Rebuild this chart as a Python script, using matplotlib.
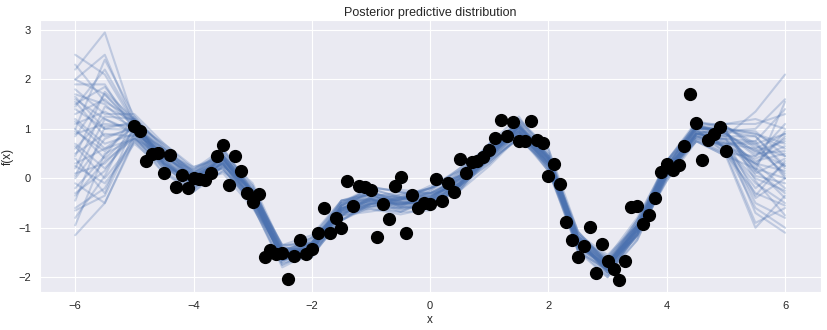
import matplotlib
matplotlib.use("Agg")
import matplotlib.pyplot as plt
import seaborn as sns

# observed data points
x_obs = [-5.0, -4.9, -4.8, -4.7, -4.6, -4.5, -4.4, -4.3, -4.2, -4.1,
         -4.0, -3.9, -3.8, -3.7, -3.6, -3.5, -3.4, -3.3, -3.2, -3.1,
         -3.0, -2.9, -2.8, -2.7, -2.6, -2.5, -2.4, -2.3, -2.2, -2.1,
         -2.0, -1.9, -1.8, -1.7, -1.6, -1.5, -1.4, -1.3, -1.2, -1.1,
         -1.0, -0.9, -0.8, -0.7, -0.6, -0.5, -0.4, -0.3, -0.2, -0.1,
         0.0, 0.1, 0.2, 0.3, 0.4, 0.5, 0.6, 0.7, 0.8, 0.9,
         1.0, 1.1, 1.2, 1.3, 1.4, 1.5, 1.6, 1.7, 1.8, 1.9,
         2.0, 2.1, 2.2, 2.3, 2.4, 2.5, 2.6, 2.7, 2.8, 2.9,
         3.0, 3.1, 3.2, 3.3, 3.4, 3.5, 3.6, 3.7, 3.8, 3.9,
         4.0, 4.1, 4.2, 4.3, 4.4, 4.5, 4.6, 4.7, 4.8, 4.9, 5.0]
y_obs = [1.05, 0.95, 0.36, 0.50, 0.52, 0.11, 0.48, -0.17, 0.07, -0.19,
         0.00, -0.02, -0.04, 0.11, 0.45, 0.67, -0.13, 0.45, 0.15, -0.30,
         -0.47, -0.32, -1.59, -1.44, -1.53, -1.52, -2.04, -1.57, -1.24, -1.53,
         -1.42, -1.10, -0.59, -1.10, -0.81, -1.01, -0.05, -0.55, -0.16, -0.18,
         -0.24, -1.19, -0.51, -0.83, -0.16, 0.02, -1.10, -0.34, -0.59, -0.49,
         -0.51, -0.02, -0.45, -0.09, -0.28, 0.40, 0.11, 0.33, 0.36, 0.43,
         0.58, 0.82, 1.17, 0.86, 1.13, 0.76, 0.76, 1.16, 0.78, 0.71,
         0.05, 0.30, -0.12, -0.88, -1.24, -1.59, -1.36, -0.99, -1.92, -1.33,
         -1.67, -1.83, -2.05, -1.67, -0.58, -0.56, -0.92, -0.75, -0.40, 0.13,
         0.28, 0.17, 0.26, 0.65, 1.70, 1.11, 0.37, 0.78, 0.89, 1.03, 0.56]

# posterior sample curves (values at x_grid)
x_grid = [-6.0, -5.5, -5.0, -4.5, -4.0, -3.5, -3.0, -2.5, -2.0, -1.5, -1.0, -0.5,
          0.0, 0.5, 1.0, 1.5, 2.0, 2.5, 3.0, 3.5, 4.0, 4.5, 5.0, 5.5, 6.0]
samples = [
    [2.5, 2.1, 1.1, 0.5, 0.1, 0.45, -0.25, -1.45, -1.3, -0.55, -0.3, -0.4, -0.3, 0.05, 0.6, 1.1, 0.45, -1.2, -1.7, -0.95, 0.25, 1.05, 0.9, 0.55, 0.25],
    [2.2, 2.95, 1.15, 0.3, -0.1, 0.3, -0.45, -1.65, -1.5, -0.75, -0.5, -0.6, -0.5, -0.15, 0.4, 0.9, 0.25, -1.35, -1.9, -1.15, 0.05, 0.9, 0.85, 1.35, 2.1],
    [2.0, 1.7, 1.05, 0.45, 0.05, 0.4, -0.3, -1.5, -1.35, -0.6, -0.35, -0.55, -0.45, 0.0, 0.55, 0.95, 0.3, -1.35, -1.85, -1.0, 0.2, 0.9, 0.95, 1.0, 1.6],
    [1.9, 1.9, 0.95, 0.25, -0.15, 0.25, -0.45, -1.6, -1.45, -0.55, -0.3, -0.4, -0.5, -0.15, 0.45, 1.05, 0.4, -1.2, -1.75, -1.15, 0.05, 0.85, 0.7, 0.75, 1.4],
    [1.7, 1.5, 0.95, 0.45, 0.05, 0.4, -0.28, -1.5, -1.45, -0.7, -0.52, -0.38, -0.35, 0.05, 0.58, 1.05, 0.42, -1.22, -1.72, -0.98, 0.25, 1.05, 0.85, 0.3, -0.2],
    [1.6, 1.2, 0.9, 0.3, -0.12, 0.3, -0.4, -1.62, -1.35, -0.6, -0.45, -0.55, -0.35, -0.1, 0.42, 0.92, 0.3, -1.32, -1.85, -1.1, 0.1, 1.0, 1.0, 0.9, 0.6],
    [1.5, 1.85, 1.1, 0.4, 0.02, 0.3, -0.4, -1.5, -1.32, -0.58, -0.48, -0.52, -0.45, -0.12, 0.52, 1.08, 0.4, -1.25, -1.78, -1.0, 0.2, 0.9, 0.75, 0.1, 0.4],
    [1.4, 1.0, 0.98, 0.32, -0.05, 0.4, -0.3, -1.58, -1.45, -0.7, -0.38, -0.45, -0.42, -0.02, 0.55, 0.98, 0.32, -1.3, -1.82, -1.08, 0.12, 0.95, 0.65, -0.5, -0.8],
    [1.3, 1.6, 1.05, 0.42, 0.08, 0.42, -0.38, -1.6, -1.4, -0.62, -0.32, -0.42, -0.38, 0.02, 0.48, 1.02, 0.38, -1.28, -1.75, -1.02, 0.22, 1.0, 1.05, 0.7, 0.9],
    [1.2, 0.7, 0.9, 0.28, -0.08, 0.28, -0.42, -1.52, -1.42, -0.68, -0.5, -0.5, -0.48, -0.1, 0.45, 0.95, 0.28, -1.25, -1.85, -1.1, 0.1, 0.9, 0.8, 0.2, 0.0],
    [1.1, 1.35, 1.02, 0.38, 0.0, 0.38, -0.32, -1.55, -1.38, -0.64, -0.4, -0.6, -0.38, -0.05, 0.5, 1.0, 0.35, -1.3, -1.8, -1.05, 0.15, 0.98, 0.6, -0.2, 0.3],
    [1.0, 0.4, 0.95, 0.35, -0.05, 0.32, -0.36, -1.55, -1.35, -0.6, -0.45, -0.45, -0.3, 0.0, 0.55, 0.95, 0.38, -1.28, -1.78, -1.05, 0.18, 0.95, 0.9, 0.55, 0.75],
    [0.9, 1.1, 1.05, 0.36, -0.02, 0.38, -0.34, -1.52, -1.42, -0.66, -0.42, -0.5, -0.45, -0.08, 0.48, 1.02, 0.34, -1.32, -1.8, -1.06, 0.12, 0.92, 0.72, -0.7, -1.1],
    [0.85, 1.7, 1.1, 0.42, 0.05, 0.35, -0.3, -1.55, -1.38, -0.62, -0.38, -0.42, -0.4, -0.02, 0.55, 1.05, 0.4, -1.25, -1.76, -1.02, 0.18, 1.02, 0.95, 0.85, 0.25],
    [0.7, 0.2, 0.88, 0.3, -0.08, 0.3, -0.4, -1.6, -1.45, -0.65, -0.45, -0.52, -0.45, -0.1, 0.45, 0.95, 0.3, -1.32, -1.85, -1.1, 0.1, 0.9, 0.78, 0.35, 0.5],
    [0.6, 1.25, 1.2, 0.65, 0.13, 0.4, -0.45, -1.7, -1.3, -0.45, -0.27, -0.53, -0.55, -0.15, 0.55, 1.15, 0.45, -1.38, -1.95, -1.0, 0.35, 1.05, 0.6, -0.1, -0.5],
    [0.5, 0.9, 0.85, 0.2, -0.12, 0.45, -0.2, -1.5, -1.55, -0.85, -0.47, -0.33, -0.2, 0.05, 0.4, 0.9, 0.3, -1.13, -1.7, -1.15, 0.0, 0.9, 1.05, 0.6, 0.1],
    [0.4, -0.3, 1.1, 0.15, -0.22, 0.25, -0.25, -1.4, -1.2, -0.65, -0.62, -0.68, -0.4, 0.15, 0.65, 1.0, 0.2, -1.38, -1.75, -0.9, 0.25, 0.8, 0.5, 0.45, 0.8],
    [0.3, 0.6, 0.8, 0.5, 0.18, 0.5, -0.35, -1.65, -1.45, -0.55, -0.22, -0.38, -0.5, -0.25, 0.4, 1.05, 0.5, -1.23, -1.9, -1.25, 0.05, 1.05, 0.95, 0.15, -0.3],
    [0.2, 1.45, 1.15, 0.4, -0.17, 0.15, -0.45, -1.45, -1.25, -0.6, -0.52, -0.63, -0.45, 0.05, 0.7, 1.1, 0.3, -1.48, -1.85, -0.95, 0.35, 1.1, 0.9, 0.25, 0.95],
    [0.1, 0.3, 0.9, 0.55, 0.08, 0.3, -0.55, -1.75, -1.5, -0.55, -0.17, -0.28, -0.35, -0.15, 0.3, 0.85, 0.35, -1.18, -1.65, -1.05, -0.05, 0.75, 0.7, 0.7, 0.05],
    [0.0, 0.8, 1.05, 0.3, 0.03, 0.55, -0.15, -1.5, -1.5, -0.8, -0.52, -0.43, -0.25, 0.1, 0.55, 0.95, 0.2, -1.33, -1.7, -0.85, 0.2, 0.85, 0.8, -0.35, 0.35],
    [-0.1, -0.5, 0.75, 0.25, -0.02, 0.45, -0.3, -1.6, -1.35, -0.55, -0.42, -0.63, -0.55, -0.05, 0.6, 1.2, 0.55, -1.23, -1.9, -1.15, 0.2, 1.15, 1.05, 0.65, 0.45],
    [-0.2, 0.45, 1.25, 0.6, 0.03, 0.2, -0.5, -1.55, -1.3, -0.7, -0.57, -0.53, -0.3, 0.0, 0.35, 0.8, 0.25, -1.18, -1.6, -0.95, 0.1, 0.85, 0.65, 0.4, 0.65],
    [-0.3, 0.15, 1.0, 0.35, -0.17, 0.35, -0.25, -1.35, -1.35, -0.75, -0.37, -0.28, -0.3, -0.2, 0.45, 1.1, 0.4, -1.43, -2.0, -1.1, 0.3, 1.0, 1.0, -0.05, -0.75],
    [-0.45, 1.05, 1.1, 0.7, 0.23, 0.4, -0.4, -1.65, -1.6, -0.75, -0.42, -0.48, -0.5, -0.1, 0.6, 1.0, 0.25, -1.28, -1.7, -1.05, 0.05, 0.95, 0.9, 0.5, 0.55],
    [-0.6, -0.2, 0.85, 0.1, -0.22, 0.35, -0.25, -1.55, -1.4, -0.5, -0.32, -0.58, -0.6, -0.15, 0.5, 1.05, 0.35, -1.33, -1.8, -0.95, 0.25, 1.1, 0.6, 0.3, 0.15],
    [-0.8, 0.05, 1.2, 0.45, 0.08, 0.6, -0.25, -1.65, -1.45, -0.65, -0.47, -0.43, -0.15, 0.15, 0.5, 0.9, 0.4, -1.08, -1.75, -1.2, 0.0, 0.9, 0.85, 0.85, 0.2],
    [-1.15, -0.5, 0.8, 0.3, -0.07, 0.2, -0.55, -1.5, -1.2, -0.5, -0.42, -0.53, -0.4, 0.0, 0.6, 1.15, 0.45, -1.28, -1.85, -1.05, 0.15, 0.75, 0.5, -0.9, -0.6],
    [0.95, 0.55, 1.05, 0.6, 0.13, 0.45, -0.3, -1.45, -1.3, -0.7, -0.57, -0.48, -0.35, -0.1, 0.35, 0.95, 0.4, -1.18, -1.75, -1.0, 0.25, 1.05, 0.95, 0.05, -0.1],
    [1.8, 1.3, 1.3, 0.7, 0.18, 0.45, -0.25, -1.45, -1.4, -0.75, -0.62, -0.73, -0.6, -0.15, 0.55, 1.15, 0.6, -1.08, -1.7, -1.05, 0.05, 0.75, 0.45, 0.2, -0.4],
    [0.65, 0.0, 0.75, 0.1, -0.27, 0.25, -0.25, -1.35, -1.15, -0.45, -0.32, -0.48, -0.5, -0.25, 0.25, 0.85, 0.35, -1.18, -1.65, -0.85, 0.35, 1.1, 1.1, 1.1, 1.3],
    [1.45, 2.2, 1.15, 0.3, -0.27, 0.15, -0.35, -1.35, -1.3, -0.75, -0.67, -0.58, -0.25, 0.2, 0.65, 0.95, 0.15, -1.43, -1.75, -0.85, 0.25, 0.85, 0.7, 0.6, 0.9],
    [-0.35, 0.35, 0.8, 0.4, 0.18, 0.6, -0.25, -1.7, -1.6, -0.65, -0.22, -0.23, -0.3, -0.15, 0.3, 0.9, 0.45, -1.08, -1.7, -1.15, -0.05, 0.85, 0.55, -0.6, -1.0],
    [1.55, 0.85, 1.0, 0.6, -0.02, 0.1, -0.6, -1.55, -1.2, -0.45, -0.42, -0.68, -0.65, -0.1, 0.7, 1.25, 0.4, -1.48, -2.0, -1.05, 0.35, 1.15, 1.0, 0.95, 0.45],
    [2.3, 1.55, 1.2, 0.5, 0.13, 0.55, -0.3, -1.65, -1.55, -0.85, -0.52, -0.38, -0.2, 0.2, 0.6, 0.9, 0.15, -1.38, -1.75, -0.95, 0.15, 0.9, 0.6, 0.0, -0.25],
    [0.25, -0.1, 0.7, 0.2, 0.03, 0.4, -0.45, -1.6, -1.3, -0.5, -0.17, -0.28, -0.4, -0.2, 0.4, 1.05, 0.5, -1.23, -1.95, -1.25, 0.05, 1.05, 0.9, 0.45, 1.1],
    [1.0, 2.4, 1.25, 0.55, -0.12, 0.25, -0.2, -1.4, -1.45, -0.85, -0.57, -0.43, -0.2, 0.05, 0.4, 0.8, 0.3, -1.13, -1.55, -0.95, 0.05, 0.8, 0.8, 0.75, 0.0],
    [-0.65, -0.35, 0.9, 0.5, 0.23, 0.45, -0.55, -1.8, -1.5, -0.55, -0.27, -0.48, -0.55, -0.25, 0.5, 1.2, 0.6, -1.23, -1.9, -1.15, 0.2, 0.95, 0.6, -0.4, 0.0],
    [1.15, 0.6, 1.05, 0.25, -0.22, 0.35, -0.15, -1.45, -1.45, -0.75, -0.42, -0.33, -0.3, -0.05, 0.35, 0.8, 0.25, -1.18, -1.6, -0.8, 0.3, 1.05, 1.0, 0.9, 0.7],
    [2.0, 2.5, 1.1, 0.45, 0.03, 0.3, -0.55, -1.75, -1.45, -0.5, -0.22, -0.38, -0.45, -0.2, 0.4, 1.05, 0.45, -1.28, -1.8, -1.0, 0.15, 0.8, 0.65, 0.3, 0.85],
    [0.05, 1.2, 0.95, 0.6, 0.13, 0.3, -0.5, -1.55, -1.25, -0.6, -0.57, -0.68, -0.45, 0.1, 0.7, 1.05, 0.2, -1.48, -1.85, -0.95, 0.35, 1.0, 0.5, -0.3, -0.55],
    [1.65, 1.0, 1.15, 0.35, -0.12, 0.45, -0.1, -1.4, -1.5, -0.85, -0.52, -0.38, -0.2, 0.05, 0.45, 1.0, 0.45, -1.13, -1.75, -1.15, 0.1, 1.05, 1.1, 1.2, 1.0],
    [-0.95, 0.5, 0.8, 0.25, -0.07, 0.5, -0.3, -1.65, -1.4, -0.45, -0.32, -0.58, -0.6, -0.15, 0.6, 1.1, 0.3, -1.38, -1.75, -0.9, 0.15, 0.75, 0.45, -1.0, -0.35],
    [0.45, 1.75, 1.2, 0.65, 0.08, 0.2, -0.55, -1.55, -1.3, -0.65, -0.52, -0.43, -0.2, 0.15, 0.55, 0.85, 0.15, -1.28, -1.65, -0.95, 0.2, 1.05, 0.95, 0.15, 1.55],
]

x_ticks = [-6, -4, -2, 0, 2, 4, 6]
y_ticks = [-2, -1, 0, 1, 2, 3]

sns.set_style("darkgrid")
plt.rcParams["font.family"] = ["Liberation Sans", "DejaVu Sans"]

fig = plt.figure(figsize=(8.28, 3.3), dpi=100)
ax = fig.add_axes([0.048, 0.115, 0.943, 0.824])

for s in samples:
    ax.plot(x_grid, s, color="#4C72B0", alpha=0.28, lw=1.5)
ax.plot(x_obs, y_obs, "o", color="black", markersize=8.5, zorder=5)

ax.set_xticks(x_ticks)
ax.set_yticks(y_ticks)
ax.tick_params(labelsize=8, colors="#262626", pad=3)
ax.set_xlabel("x", fontsize=8.5, color="#262626", labelpad=2)
ax.set_ylabel("f(x)", fontsize=8.5, color="#262626", labelpad=3)
ax.set_title("Posterior predictive distribution", fontsize=9, color="#262626", pad=3)

fig.savefig("out.png", dpi=100)
